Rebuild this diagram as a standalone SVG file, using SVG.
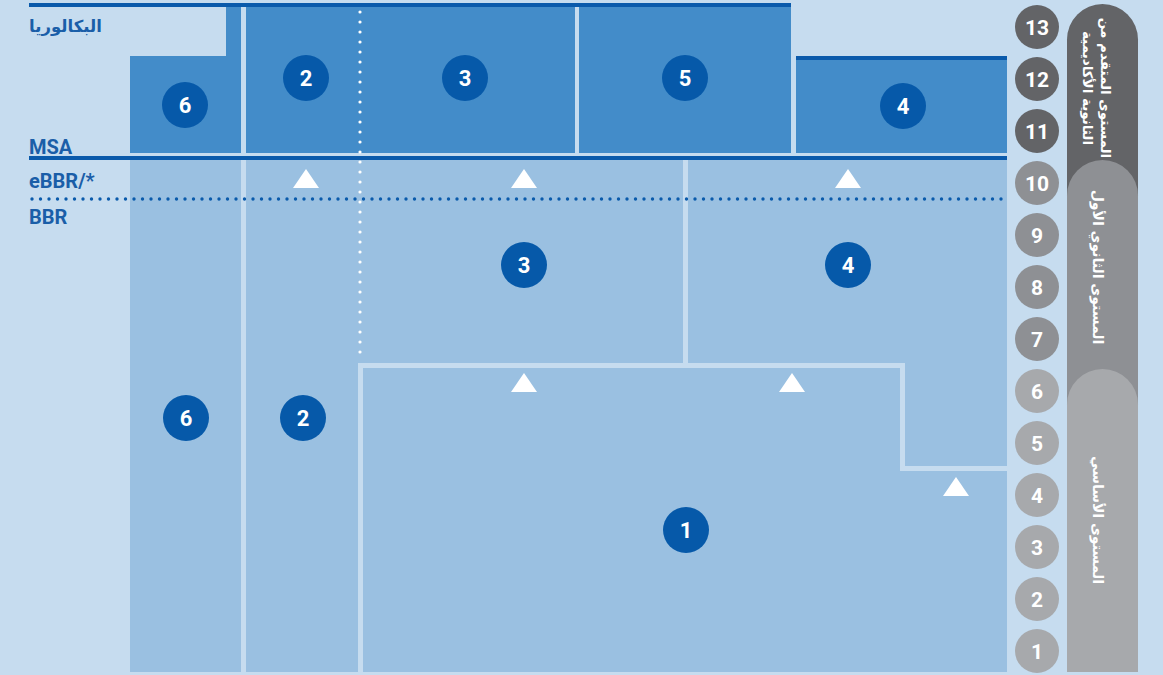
<svg xmlns="http://www.w3.org/2000/svg" width="1163" height="675" viewBox="0 0 1163 675">
<defs>
<style>
.bg{fill:#c6dcef}
.top{fill:#438cc9}
.low{fill:#9ac0e1}
.sep{fill:#c6dcef}
.line{fill:#0a5aab}
.badge{fill:#0659a9}
.num{font-family:Roboto,"Liberation Sans",sans-serif;font-weight:700;font-size:22px;fill:#fff;text-anchor:middle}
.gnum{font-family:Roboto,"Liberation Sans",sans-serif;font-weight:700;font-size:21px;fill:#fff;text-anchor:middle}
.lbl{font-family:Roboto,"Liberation Sans",sans-serif;font-weight:700;font-size:20px;fill:#1a5ea8}
.ar{font-family:"DejaVu Sans","Noto Sans",sans-serif;font-weight:700;font-size:16.5px;fill:#1a5ea8}
.pill{font-family:"DejaVu Sans","Noto Sans",sans-serif;font-weight:700;font-size:14px;fill:#fff;text-anchor:middle}
.tri{fill:#fff}
.g1{fill:#636467}.g2{fill:#8e9094}.g3{fill:#a7a9ac}
</style>
<polygon id="tri" points="0,0 13,19 -13,19"/>
</defs>
<rect class="bg" x="0" y="0" width="1163" height="675"/>

<g id="lower-region">
<rect class="low" x="130" y="160" width="877" height="512"/>
</g>

<g id="top-boxes">
<polygon class="top" points="130,56 226,56 226,7 241,7 241,153 130,153"/>
<rect class="top" x="246" y="7" width="329" height="146"/>
<rect class="top" x="579" y="7" width="212" height="146"/>
<rect class="top" x="796" y="60" width="211" height="93"/>
</g>

<g id="connectors">
<rect class="sep" x="241" y="160" width="5" height="512"/>
<rect class="sep" x="683" y="160" width="5" height="205"/>
<polyline points="360.5,672 360.5,365.5 902.5,365.5 902.5,468.5 1007,468.5" fill="none" stroke="#c6dcef" stroke-width="5"/>
<rect class="line" x="29" y="3" width="762" height="4"/>
<rect class="line" x="796" y="56" width="211" height="4"/>
<rect class="line" x="29" y="156" width="978" height="4"/>
<line x1="360" y1="12" x2="360" y2="358" stroke="#fff" stroke-width="3.2" stroke-linecap="round" stroke-dasharray="0 10"/>
<line x1="32" y1="199" x2="1007" y2="199" stroke="#0a5aab" stroke-width="3.4" stroke-linecap="round" stroke-dasharray="0 8.5"/>
<use href="#tri" class="tri" x="306" y="169"/>
<use href="#tri" class="tri" x="524" y="169"/>
<use href="#tri" class="tri" x="848" y="169"/>
<use href="#tri" class="tri" x="524" y="373"/>
<use href="#tri" class="tri" x="792" y="373"/>
<use href="#tri" class="tri" x="956" y="477"/>
</g>

<g id="labels">
<text class="ar" x="29" y="32">البكالوريا</text>
<text class="lbl" x="29" y="154">MSA</text>
<text class="lbl" x="29" y="188">eBBR/*</text>
<text class="lbl" x="29" y="224">BBR</text>
</g>

<g id="node-6-top"><circle class="badge" cx="185" cy="105" r="23"/><text class="num" x="185" y="113">6</text></g>
<g id="node-2-top"><circle class="badge" cx="306" cy="78" r="23"/><text class="num" x="306" y="86">2</text></g>
<g id="node-3-top"><circle class="badge" cx="465" cy="78" r="23"/><text class="num" x="465" y="86">3</text></g>
<g id="node-5-top"><circle class="badge" cx="685" cy="78" r="23"/><text class="num" x="685" y="86">5</text></g>
<g id="node-4-top"><circle class="badge" cx="903" cy="106" r="23"/><text class="num" x="903" y="114">4</text></g>
<g id="node-3-low"><circle class="badge" cx="524" cy="265" r="23"/><text class="num" x="524" y="273">3</text></g>
<g id="node-4-low"><circle class="badge" cx="848" cy="265" r="23"/><text class="num" x="848" y="273">4</text></g>
<g id="node-6-low"><circle class="badge" cx="186" cy="418" r="23"/><text class="num" x="186" y="426">6</text></g>
<g id="node-2-low"><circle class="badge" cx="303" cy="418" r="23"/><text class="num" x="303" y="426">2</text></g>
<g id="node-1-low"><circle class="badge" cx="686" cy="530" r="23"/><text class="num" x="686" y="538">1</text></g>

<g id="level-pills">
<path class="g1" d="M1067,450 V39.5 A35.5,35.5 0 0 1 1138,39.5 V450 Z"/>
<path class="g2" d="M1067,500 V195.5 A35.5,35.5 0 0 1 1138,195.5 V500 Z"/>
<path class="g3" d="M1067,672 V404.5 A35.5,35.5 0 0 1 1138,404.5 V672 Z"/>
<text class="pill" transform="translate(1101,88) rotate(90)" style="font-size:13.5px"><tspan x="0" y="0">المستوى المتقدم من</tspan><tspan x="0" y="18">الثانوية الأكاديمية</tspan></text>
<text class="pill" transform="translate(1093,267) rotate(90)">المستوى الثانوي الأول</text>
<text class="pill" transform="translate(1093,520) rotate(90)">المستوى الأساسي</text>
</g>

<g id="grades">
<circle class="g1" cx="1037" cy="27" r="22"/><text class="gnum" x="1037" y="34.5">13</text>
<circle class="g1" cx="1037" cy="79" r="22"/><text class="gnum" x="1037" y="86.5">12</text>
<circle class="g1" cx="1037" cy="131" r="22"/><text class="gnum" x="1037" y="138.5">11</text>
<circle class="g2" cx="1037" cy="183" r="22"/><text class="gnum" x="1037" y="190.5">10</text>
<circle class="g2" cx="1037" cy="235" r="22"/><text class="gnum" x="1037" y="242.5">9</text>
<circle class="g2" cx="1037" cy="287" r="22"/><text class="gnum" x="1037" y="294.5">8</text>
<circle class="g2" cx="1037" cy="339" r="22"/><text class="gnum" x="1037" y="346.5">7</text>
<circle class="g3" cx="1037" cy="391" r="22"/><text class="gnum" x="1037" y="398.5">6</text>
<circle class="g3" cx="1037" cy="443" r="22"/><text class="gnum" x="1037" y="450.5">5</text>
<circle class="g3" cx="1037" cy="495" r="22"/><text class="gnum" x="1037" y="502.5">4</text>
<circle class="g3" cx="1037" cy="547" r="22"/><text class="gnum" x="1037" y="554.5">3</text>
<circle class="g3" cx="1037" cy="599" r="22"/><text class="gnum" x="1037" y="606.5">2</text>
<circle class="g3" cx="1037" cy="651" r="22"/><text class="gnum" x="1037" y="658.5">1</text>
</g>
</svg>
